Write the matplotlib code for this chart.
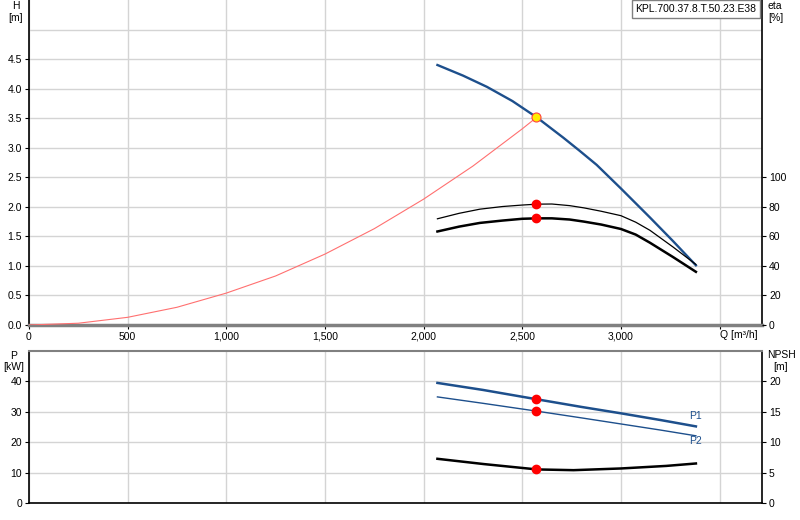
import matplotlib
matplotlib.use("Agg")
import matplotlib.pyplot as plt

plt.rcParams['font.family'] = ['Liberation Sans', 'DejaVu Sans']
plt.rcParams['font.size'] = 7.5

# ----- 데이터 -----
# Q-H 곡선
q_pump = [2070, 2200, 2321, 2450, 2575, 2708, 2790, 2877, 3000, 3147, 3264, 3380]
h_pump = [4.40, 4.22, 4.03, 3.79, 3.51, 3.17, 2.95, 2.71, 2.31, 1.82, 1.42, 1.01]

# 시스템 곡선
q_sys = [0, 250, 500, 750, 1000, 1250, 1500, 1750, 2000, 2250, 2500, 2575]
h_sys = [0, 0.03, 0.13, 0.30, 0.54, 0.83, 1.20, 1.63, 2.13, 2.69, 3.32, 3.52]

# 효율 (eta)
q_eta = [2070, 2180, 2285, 2400, 2500, 2575, 2650, 2740, 2812, 2900, 3000, 3075, 3147, 3264, 3380]
eta_thin = [71.9, 75.6, 78.4, 80.2, 81.2, 81.8, 81.9, 80.8, 79.3, 77.0, 74.0, 69.6, 64.1, 52.8, 41.0]
eta_thick = [63.3, 66.6, 69.1, 70.7, 71.9, 72.2, 72.2, 71.4, 70.0, 68.0, 65.0, 61.2, 55.7, 46.0, 36.0]

# 동력 P1, P2
q_p = [2070, 2300, 2575, 2800, 3000, 3200, 3380]
p1 = [39.5, 37.2, 34.1, 31.6, 29.5, 27.3, 25.2]
p2 = [34.9, 32.8, 30.2, 28.0, 26.0, 24.0, 22.1]

# NPSH
q_npsh = [2070, 2306, 2575, 2760, 3000, 3230, 3380]
npsh = [7.27, 6.40, 5.52, 5.40, 5.68, 6.10, 6.50]

# 운전점
q_op = 2572
h_op = 3.52
eta_op = [81.8, 72.2]
p_op = [34.1, 30.2]
npsh_op = 5.52

title = 'KPL.700.37.8.T.50.23.E38'

blue = '#1d4f8c'
grid_c = '#d4d4d4'

fig = plt.figure(figsize=(8, 5.2), dpi=100)

# ----- 위쪽 그래프 (H, eta) -----
ax = fig.add_axes([29/800, 1-325/520, 733/800, 325/520])
ax.set_xlim(0, 3715)
ax.set_ylim(0, 5.5)
ax.set_xticks(range(0, 3501, 500))
ax.set_yticks([i*0.5 for i in range(10)])
ax.set_xticklabels(['0', '500', '1,000', '1,500', '2,000', '2,500', '3,000', ''])
ax.set_yticklabels(['%.1f' % (i*0.5) for i in range(10)])
ax.grid(True, color=grid_c, lw=1)
ax.axhline(5.0, color=grid_c, lw=1, zorder=0)
ax.set_axisbelow(True)
ax.tick_params(length=3, width=0.8, pad=2)
ax.spines['top'].set_visible(False)
ax.spines['left'].set_linewidth(1.2)
ax.spines['right'].set_linewidth(1.2)
ax.spines['bottom'].set_color('#808080')
ax.spines['bottom'].set_linewidth(2.5)

ax.plot(q_sys, h_sys, color='#ff7070', lw=0.8, zorder=3)
ax.plot(q_pump, h_pump, color=blue, lw=1.7, zorder=4)
ax.plot([q_op], [h_op], 'o', color='#ffee00', mec='#ff4040', mew=0.8, ms=6.5, zorder=6)

ax2 = ax.twinx()
ax2.set_ylim(0, 220)
ax2.set_yticks(range(0, 101, 20))
ax2.tick_params(length=3, width=0.8, pad=2)
for s in ax2.spines.values():
    s.set_visible(False)
ax2.plot(q_eta, eta_thin, color='black', lw=0.9)
ax2.plot(q_eta, eta_thick, color='black', lw=1.8)
ax2.plot([q_op, q_op], eta_op, 'o', color='red', ms=6, zorder=6)

# ----- 아래쪽 그래프 (P, NPSH) -----
bx = fig.add_axes([29/800, 1-503/520, 733/800, 152/520])
bx.set_xlim(0, 3715)
bx.set_ylim(0, 50)
bx.set_xticks(range(0, 3501, 500))
bx.set_xticklabels([])
bx.tick_params(axis='x', length=0)
bx.set_yticks(range(0, 41, 10))
bx.tick_params(axis='y', length=3, width=0.8, pad=2)
bx.grid(True, color=grid_c, lw=1)
bx.set_axisbelow(True)
bx.spines['top'].set_color('#808080')
bx.spines['top'].set_linewidth(1.5)
for k in ['left', 'right', 'bottom']:
    bx.spines[k].set_linewidth(1.2)

bx.plot(q_p, p1, color=blue, lw=1.8)
bx.plot(q_p, p2, color=blue, lw=1.0)
bx.plot([q_op, q_op], p_op, 'o', color='red', ms=6, zorder=6)
bx.text(3380, 28.5, 'P1', color=blue, ha='center', va='center', fontsize=7.5)
bx.text(3380, 20.3, 'P2', color=blue, ha='center', va='center', fontsize=7.5)

bx2 = bx.twinx()
bx2.set_ylim(0, 25)
bx2.set_yticks(range(0, 21, 5))
bx2.tick_params(length=3, width=0.8, pad=2)
for s in bx2.spines.values():
    s.set_visible(False)
bx2.plot(q_npsh, npsh, color='black', lw=1.8)
bx2.plot([q_op], [npsh_op], 'o', color='red', ms=6, zorder=6)

# ----- 축 이름 -----
def ftxt(x, y, s, **kw):
    fig.text(x/800, 1-y/520, s, va='center', fontsize=7.5, **kw)

ftxt(16, 6, 'H', ha='center')
ftxt(16, 18, '[m]', ha='center')
ftxt(768, 6, 'eta', ha='left')
ftxt(768, 18, '[%]', ha='left')
ftxt(739, 335, 'Q [m³/h]', ha='center')
ftxt(14, 356, 'P', ha='center')
ftxt(14, 367, '[kW]', ha='center')
ftxt(781, 355, 'NPSH', ha='center')
ftxt(781, 367, '[m]', ha='center')

# 제목 박스 (그림자 포함)
fig.text(697/800, 1-10/520, title, ha='center', va='center', fontsize=7.5, color='#bbbbbb',
         bbox=dict(boxstyle='square,pad=0.35', fc='#a0a0a0', ec='none'))
fig.text(696/800, 1-9/520, title, ha='center', va='center', fontsize=7.5,
         bbox=dict(boxstyle='square,pad=0.35', fc='white', ec='#808080', lw=1))

fig.savefig('out.png', dpi=100)
